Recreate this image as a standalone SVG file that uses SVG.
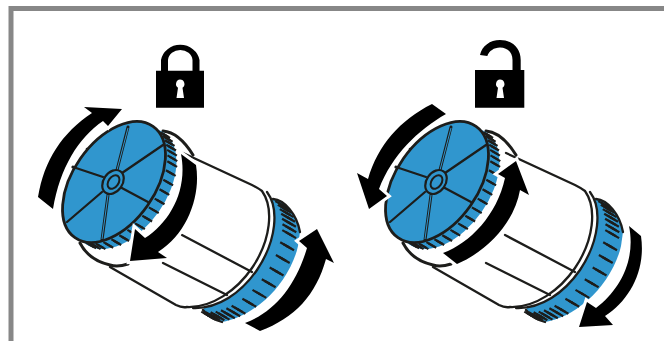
<svg xmlns="http://www.w3.org/2000/svg" width="664" height="341" viewBox="0 0 664 341">
<style>
.ln{fill:none;stroke:#1d1d1b;stroke-width:2.3;stroke-linecap:round;stroke-linejoin:round}
.tk{fill:none;stroke:#1d1d1b;stroke-width:2.2}
.bl{fill:#3096ce}
.ar{fill:#000;stroke:#fff;stroke-width:6;paint-order:stroke;stroke-linejoin:miter}
</style>
<defs>
<path id="ticks-far" class="tk" d="M44.3-50.8l7.8 4.5M46.8-47l7.8 4.5M48.8-42.8l7.8 4.5M50.2-38.2l7.8 4.5M51.1-33.1l7.8 4.5M51.5-27.6l7.8 4.5M51.3-21.8l7.8 4.5M49.2-9.6l7.8 4.5M44.9 3.1l7.8 4.5M38.7 15.6l7.8 4.5M30.8 27.4l7.8 4.5M21.5 38l7.8 4.5M11.4 46.9l7.8 4.5M.6 53.8l7.8 4.5M-4.6 56.3l7.8 4.5M-10 58.4l7.8 4.5M-15.3 59.7l7.8 4.5M-20.4 60.4l7.8 4.5M-25.2 60.4l7.8 4.5M-29.700 59.7l7.8 4.5"/>
<path id="ticks-near" class="tk" d="M44.3-50.8l7.8 4.5M46.8-47l7.8 4.5M48.8-42.8l7.8 4.5M50.2-38.2l7.8 4.5M51.1-33.1l7.8 4.5M51.5-27.6l7.8 4.5M51.3-21.8l7.8 4.5M49.9-12.8l7.8 4.5M47.3-3.3l7.8 4.5M43.5 6.2l7.8 4.5M38.7 15.6l7.8 4.5M32.9 24.4l7.8 4.5M26.3 32.8l7.8 4.5M19.1 40.4l7.8 4.5M11.4 46.9l7.8 4.5M3.3 52.3l7.8 4.5M-4.6 56.3l7.8 4.5M-12.6 59.1l7.8 4.5M-20.4 60.4l7.8 4.5M-25.2 60.4l7.8 4.5M-29.700 59.7l7.8 4.5"/>
<g id="drum">
<path class="bl" d="M273 199C285 200 297 215 300 232L298 246C294 265 280 287 265 300C250 313 235 320 222 322C214 320 208 316 203 310L230 250Z"/>
<use href="#ticks-far" x="237" y="255.4"/>
<use href="#ticks-far" x="234" y="253.6"/>
<use href="#ticks-far" x="231" y="251.9"/>
<path class="ln" d="M273 199C285 200 297 215 300 232M222 322C214 320 208 316 203 310"/>
<path fill="#fff" d="M267 192C279 208 277 240 257 270C241 293 218 309 193 308L150 290L200 170Z"/>
<path class="ln" d="M183 153L252 185Q258 188 262 191C274 208 271 240 252 268C237 290 212 308 187 307Q182 308 176 305L110 267"/>
<path class="ln" d="M267 192C279 208 277 240 257 270C241 293 218 309 193 308"/>
<path class="ln" d="M182 235L252 272M163 263L227 295"/>
<path class="ln" style="stroke-width:3" d="M163 131C175 132 185 142 193 155M80 243C86 255 97 262 110 265C116 267 122 266 128 264"/>
<ellipse class="bl" cx="125" cy="188.5" rx="68" ry="41" transform="rotate(-55 125 188.5)"/>
<use href="#ticks-near" x="116" y="183"/>
<use href="#ticks-near" x="118" y="184.200"/>
<ellipse class="bl" cx="114" cy="182" rx="68" ry="41" stroke="#1d1d1b" stroke-width="2.8" transform="rotate(-55 114 182)"/>
<path class="ln" d="M163 145L122 173M73 167L103 177M67 222L102 192M148 202L120 187"/>
<path class="ln" style="stroke-width:3" d="M128 127L117 170M102 240L108 195"/>
<path fill="none" stroke="#3096ce" stroke-width="1" d="M128 128L117 170M102 239L108 195"/>
<ellipse class="bl" cx="113" cy="182" rx="13" ry="9.500" stroke="#1d1d1b" stroke-width="2.200" transform="rotate(-55 113 182)"/>
<ellipse class="bl" cx="113.500" cy="182" rx="7.500" ry="5" stroke="#1d1d1b" stroke-width="2" transform="rotate(-55 113.500 182)"/>
<circle cx="73" cy="167" r="1.600" fill="#1d1d1b"/>
<circle cx="87" cy="149" r="1.300" fill="#1d1d1b"/>
</g>
</defs>
<g id="frame"><path d="M11 341V8.500H664" fill="none" stroke="#878787" stroke-width="5"/></g>
<g id="lock-closed">
<path d="M156 70.700H161V60A19.500 18 0 0 1 199.500 60V70.700H204V107.700H156ZM168 70.700H192.500V60A12.300 11 0 0 0 168 60Z" fill-rule="evenodd"/>
<path d="M180 79.500a4.500 4.500 0 0 1 2.500 8.200L184 98H176.500L178 87.700a4.500 4.500 0 0 1 2-8.200Z" fill="#fff"/>
</g>
<g id="lock-open">
<path d="M475 70H512.500V60C512.500 52 507 47.500 500 47.500C494 47.500 489 51 487.300 56L480 55C482 46 490 40 500 40C512 40 520.700 48 520.700 60V70H524.300V107.700H475Z"/>
<path d="M500 79.500a4.500 4.500 0 0 1 2.500 8.200L504 98H496.500L498 87.700a4.500 4.500 0 0 1 2-8.200Z" fill="#fff"/>
</g>
<g id="drum-left"><use href="#drum"/></g>
<g id="drum-right"><use href="#drum" x="323"/></g>
<g id="arrows">
<path class="ar" d="M38 197C44 160 62 133 92 113L84 107L122 109L108 126L103 121C78 138 60 168 53 209Z"/>
<path class="ar" d="M181 154L196 165C201 195 188 233 158 252L167 258L130 261L135 229L145 238C170 222 188 190 181 154Z"/>
<path class="ar" d="M245 323C275 312 296 285 307 248L299 241L317 229L334 263L326 259C316 295 295 318 260 331Z"/>
<path class="ar" d="M432 104L446 114C418 130 392 155 379 189L387 196L369 209L357 173L368 179C378 145 400 120 432 104Z"/>
<path class="ar" d="M443 253C470 243 497 215 505 178L498 174L516 161L529 195L520 190C515 220 490 250 457 264Z"/>
<path class="ar" d="M629 226L641 236C646 270 630 300 605 316L613 325L579 327L587 302L596 308C620 290 636 260 629 226Z"/>
</g>
</svg>
